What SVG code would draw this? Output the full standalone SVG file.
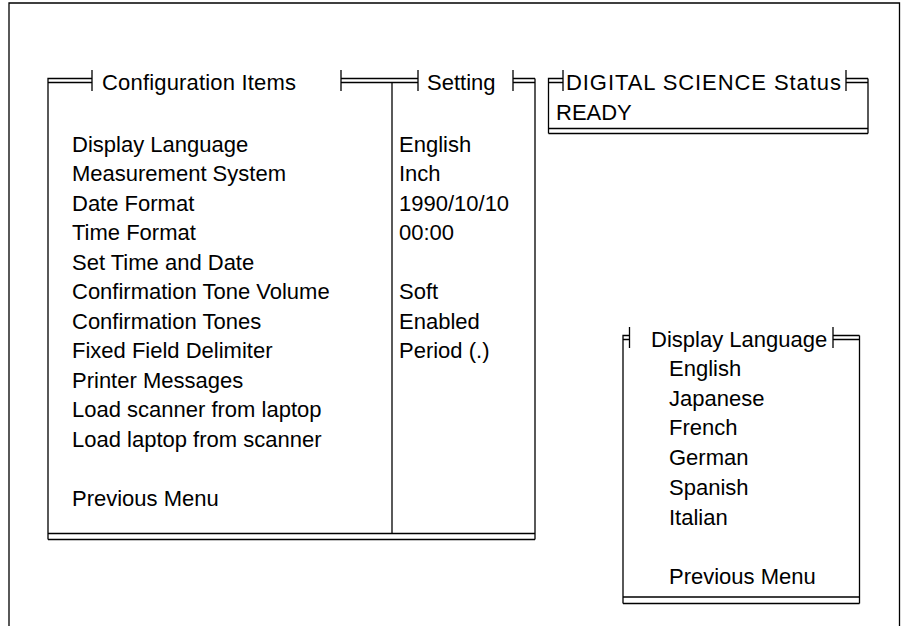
<svg xmlns="http://www.w3.org/2000/svg" width="901" height="626" viewBox="0 0 901 626">
<style>
.ln{stroke:#000;stroke-width:1.3;fill:none}
.t{font-family:"Liberation Sans",Arial,sans-serif;font-size:22px;fill:#000}
</style>
<rect x="0" y="0" width="901" height="626" fill="#fff"/>
<g id="frame">
<path class="ln" d="M9,626 V3 H899.5 V626"/>
</g>
<g id="config-menu">
<path class="ln" d="M48,539.5 V78.5 H92 M48,82.5 H92 M92,70 V91"/>
<path class="ln" d="M341,70 V91 M341,78.5 H418 M341,82.5 H418 M418,70 V91"/>
<path class="ln" d="M513,70 V91 M513,78.5 H535 M513,82.5 H535 M535,78.5 V539.5"/>
<path class="ln" d="M392,82.5 V533.5"/>
<path class="ln" d="M48,533.5 H535 M48,539.5 H535"/>
<text class="t" x="102" y="90" textLength="194">Configuration Items</text>
<text class="t" x="427" y="90">Setting</text>
<g class="t">
<text x="72" y="151.5">Display Language</text>
<text x="72" y="181">Measurement System</text>
<text x="72" y="210.5">Date Format</text>
<text x="72" y="240">Time Format</text>
<text x="72" y="269.5">Set Time and Date</text>
<text x="72" y="299">Confirmation Tone Volume</text>
<text x="72" y="328.5">Confirmation Tones</text>
<text x="72" y="358">Fixed Field Delimiter</text>
<text x="72" y="387.5">Printer Messages</text>
<text x="72" y="417">Load scanner from laptop</text>
<text x="72" y="446.5">Load laptop from scanner</text>
<text x="72" y="505.5">Previous Menu</text>
<text x="399" y="151.5">English</text>
<text x="399" y="181">Inch</text>
<text x="399" y="210.5">1990/10/10</text>
<text x="399" y="240">00:00</text>
<text x="399" y="299">Soft</text>
<text x="399" y="328.5">Enabled</text>
<text x="399" y="358">Period (.)</text>
</g>
</g>
<g id="status-box">
<path class="ln" d="M548.5,133.5 V78.5 H563 M548.5,82.5 H563 M563,70 V91"/>
<path class="ln" d="M846,70 V91 M846,78.5 H868 M846,82.5 H868 M868,78.5 V133.5"/>
<path class="ln" d="M548.5,128.5 H868 M548.5,133.5 H868"/>
<text class="t" x="566" y="90" textLength="275">DIGITAL SCIENCE Status</text>
<text class="t" x="556" y="120">READY</text>
</g>
<g id="language-menu">
<path class="ln" d="M623,603.5 V335.5 H629.5 M623,339.5 H629.5 M629.5,327 V348"/>
<path class="ln" d="M833,327 V348 M833,335.5 H859.5 M833,339.5 H859.5 M859.5,335.5 V603.5"/>
<path class="ln" d="M623,597 H859.5 M623,603.5 H859.5"/>
<text class="t" x="651" y="347">Display Language</text>
<g class="t">
<text x="669" y="376">English</text>
<text x="669" y="405.7">Japanese</text>
<text x="669" y="435.4">French</text>
<text x="669" y="465.1">German</text>
<text x="669" y="494.8">Spanish</text>
<text x="669" y="524.5">Italian</text>
<text x="669" y="583.9">Previous Menu</text>
</g>
</g>
</svg>
